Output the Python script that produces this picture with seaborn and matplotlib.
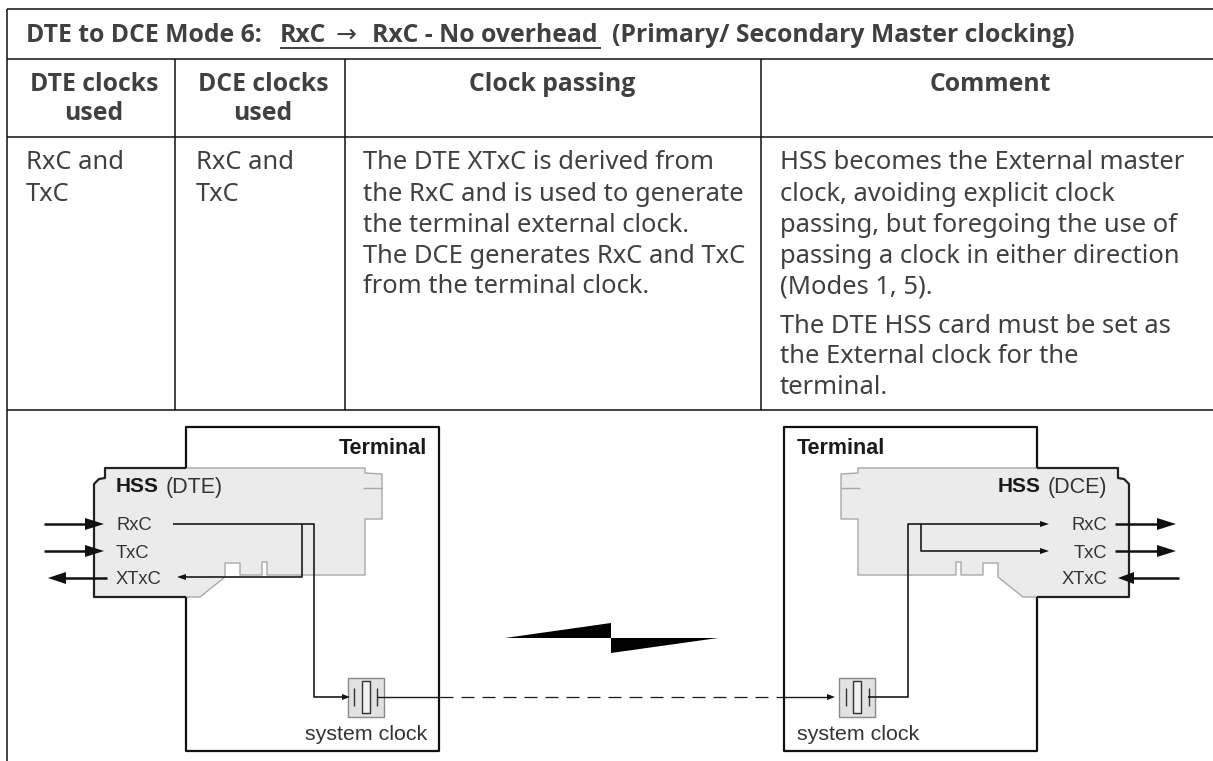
import matplotlib
matplotlib.use('Agg')
import matplotlib.pyplot as plt
import seaborn as sns

sns.set_theme(style='white')
plt.rcParams['font.family'] = ['Noto Sans', 'DejaVu Sans']

# table text
title_parts = ['DTE to DCE Mode 6:', 'RxC', 'RxC - No overhead', '(Primary/ Secondary Master clocking)']
title_x = [26, 280, 372, 612]
arrow_x = 336
headers = [('DTE clocks\nused', 94), ('DCE clocks\nused', 263), ('Clock passing', 552), ('Comment', 990)]
cell_dte = ['RxC and', 'TxC']
cell_dce = ['RxC and', 'TxC']
cell_passing = ['The DTE XTxC is derived from', 'the RxC and is used to generate',
                'the terminal external clock.', 'The DCE generates RxC and TxC',
                'from the terminal clock.']
cell_comment = ['HSS becomes the External master', 'clock, avoiding explicit clock',
                'passing, but foregoing the use of', 'passing a clock in either direction',
                '(Modes 1, 5).', 'The DTE HSS card must be set as',
                'the External clock for the', 'terminal.']
baselines = [169, 201, 232, 263, 293, 333, 363, 394]

# table grid
grid_h = [9, 59, 137, 410]
grid_v = [175, 344.5, 761]
left_edge = 6.5

# left half of the diagram, the right half mirrors it about x = 611.5
mirror = 1223
term_x = [186, 186, 439, 439, 186, 186]
term_y = [468, 427, 427, 751, 751, 597]
card_dark_x = [186, 105, 105, 99, 94, 94, 186]
card_dark_y = [468, 468, 478, 479, 484, 597, 597]
card_light_x = [186, 365, 365, 382, 382, 365, 365, 267, 267, 262, 262, 240, 240, 225, 225, 200, 186]
card_light_y = [468, 468, 473, 474, 519, 519, 575, 575, 562, 562, 575, 575, 563, 563, 577, 597, 597]
clock_box_x = [348, 384, 384, 348, 348]
clock_box_y = [678, 678, 717, 717, 678]
crystal_x = [362, 370, 370, 362, 362]
crystal_y = [681, 681, 713, 713, 681]
plates_x = [354, 377]
plate_y = [688, 706]

# signal wires
wire_dte_x = [173, 314, 314, 347]
wire_dte_y = [524, 524, 697, 697]
wire_xtxc_x = [302, 302, 185]
wire_xtxc_y = [524, 577, 577]
wire_dce_x = [868, 908, 908, 1040]
wire_dce_y = [697, 697, 524, 524]
wire_txc_x = [921, 921, 1040]
wire_txc_y = [524, 551, 551]

fig = plt.figure(figsize=(12.13, 7.61), dpi=100)
ax = fig.add_axes([0, 0, 1, 1])
ax.set_xlim(0, 1213)
ax.set_ylim(761, 0)
ax.axis('off')

TEXT = '#404040'
LINE = '#1a1a1a'


def poly(xs, ys, color=LINE, lw=1.2, z=3, ls='-'):
    line = sns.lineplot(x=xs, y=ys, sort=False, estimator=None, color=color,
                        linewidth=lw, ax=ax, zorder=z, legend=False)
    line.lines[-1].set_linestyle(ls)
    line.lines[-1].set_solid_capstyle('butt')


def head(tip, base, y, half, z=5):
    ax.fill([tip, base, base], [y, y - half, y + half], color='#111111', lw=0, zorder=z)


# table
for y in grid_h:
    poly([left_edge, 1213], [y, y], color='#111111', lw=1.1)
for x in grid_v:
    poly([x, x], [59, 410], color='#111111', lw=1.1)
poly([left_edge, left_edge], [9, 761], color='#111111', lw=1.1)

BOLD = ['Open Sans', 'DejaVu Sans']
TITLE_SIZE = 17.8
BODY_SIZE = 18.4
for part, x in zip(title_parts, title_x):
    ax.text(x, 42, part, family=BOLD, fontsize=TITLE_SIZE, fontweight='bold', color=TEXT, va='baseline')
ax.text(arrow_x, 42, '\u2192', family='DejaVu Sans', fontsize=18, color=TEXT, va='baseline')
poly([280, 601], [48, 48], color=TEXT, lw=1.4)

for label, x in headers:
    ax.text(x, 91, label.split('\n')[0], family=BOLD, fontsize=TITLE_SIZE, fontweight='bold', color=TEXT,
            ha='center', va='baseline')
    if '\n' in label:
        ax.text(x, 120, label.split('\n')[1], family=BOLD, fontsize=TITLE_SIZE, fontweight='bold', color=TEXT,
                ha='center', va='baseline')

for x, lines in [(26, cell_dte), (196, cell_dce), (363, cell_passing), (780, cell_comment)]:
    for line, y in zip(lines, baselines):
        ax.text(x, y, line, fontsize=BODY_SIZE, color=TEXT, va='baseline')

# diagram: cards first so the wires sit on top
for flip in [False, True]:
    fx = (lambda xs: [mirror - v for v in xs]) if flip else (lambda xs: list(xs))
    ax.fill(fx(card_dark_x[:-1] + card_light_x[::-1][:-1]),
            card_dark_y[:-1] + card_light_y[::-1][:-1], color='#ebebeb', lw=0, zorder=1)
    poly(fx(term_x), term_y, lw=1.6, color='#111111')
    poly(fx(card_dark_x), card_dark_y, lw=1.6, color='#222222')
    poly(fx(card_light_x), card_light_y, lw=1.0, color='#a8a8a8', z=2)
    poly(fx([363, 382]), [488, 488], lw=1.0, color='#a8a8a8', z=2)
    ax.fill(fx(clock_box_x), clock_box_y, color='#e2e2e2', lw=0, zorder=1)
    poly(fx(clock_box_x), clock_box_y, lw=1.0, color='#8a8a8a', z=2)
    ax.fill(fx(crystal_x), crystal_y, color='#f2f2f2', lw=0, zorder=2)
    poly(fx(crystal_x), crystal_y, lw=1.0, color='#333333')
    for px in fx(plates_x):
        poly([px, px], plate_y, lw=1.0, color='#333333')

poly(wire_dte_x, wire_dte_y)
poly(wire_xtxc_x, wire_xtxc_y)
poly(wire_dce_x, wire_dce_y)
poly(wire_txc_x, wire_txc_y)
head(350, 342, 697, 3)
head(835, 827, 697, 3)
head(177, 186, 577, 3)
head(1049, 1040, 524, 3)
head(1049, 1040, 551, 3)
poly([377, 440], [697, 697], lw=1.0)
poly([783, 827], [697, 697], lw=1.0)
poly([440, 783], [697, 697], lw=0.9, ls=(0, (10.4, 6.4)))

# external clock arrows
for y in [524, 551]:
    poly([44, 90], [y, y], lw=1.8, color='#111111')
    head(104, 85, y, 6)
    poly([1115, 1160], [y, y], lw=1.8, color='#111111')
    head(1176, 1157, y, 6)
poly([107, 62], [578, 578], lw=1.8, color='#111111')
head(48, 66, 578, 6)
poly([1179, 1130], [578, 578], lw=1.8, color='#111111')
head(1118, 1134, 578, 6)

# lightning bolt
ax.fill([505, 611, 611], [638, 623, 638], color='#000000', lw=0, zorder=4)
ax.fill([718, 611, 611], [638, 653, 638], color='#000000', lw=0, zorder=4)

# diagram labels
ARIAL = 'Liberation Sans'
DARK = '#1a1a1a'
SOFT = '#333333'
ax.text(427, 448, 'Terminal', family=ARIAL, fontsize=15.5, fontweight='bold', color=DARK, ha='right', va='center')
ax.text(797, 448, 'Terminal', family=ARIAL, fontsize=15.5, fontweight='bold', color=DARK, ha='left', va='center')
ax.text(427, 735, 'system clock', family=ARIAL, fontsize=15.4, color=SOFT, ha='right', va='center')
ax.text(797, 735, 'system clock', family=ARIAL, fontsize=15.4, color=SOFT, ha='left', va='center')
ax.text(116, 487, 'HSS', family=ARIAL, fontsize=15, fontweight='bold', color=DARK, ha='left', va='center')
ax.text(166, 487, '(DTE)', family=ARIAL, fontsize=15.5, color=SOFT, ha='left', va='center')
ax.text(998, 487, 'HSS', family=ARIAL, fontsize=15, fontweight='bold', color=DARK, ha='left', va='center')
ax.text(1107, 487, '(DCE)', family=ARIAL, fontsize=15.5, color=SOFT, ha='right', va='center')
for label, y in zip(['RxC', 'TxC', 'XTxC'], [526, 553, 579]):
    ax.text(116, y, label, family=ARIAL, fontsize=13.2, color=SOFT, ha='left', va='center')
    ax.text(1107, y, label, family=ARIAL, fontsize=13.2, color=SOFT, ha='right', va='center')

fig.savefig('out.png', dpi=100)
